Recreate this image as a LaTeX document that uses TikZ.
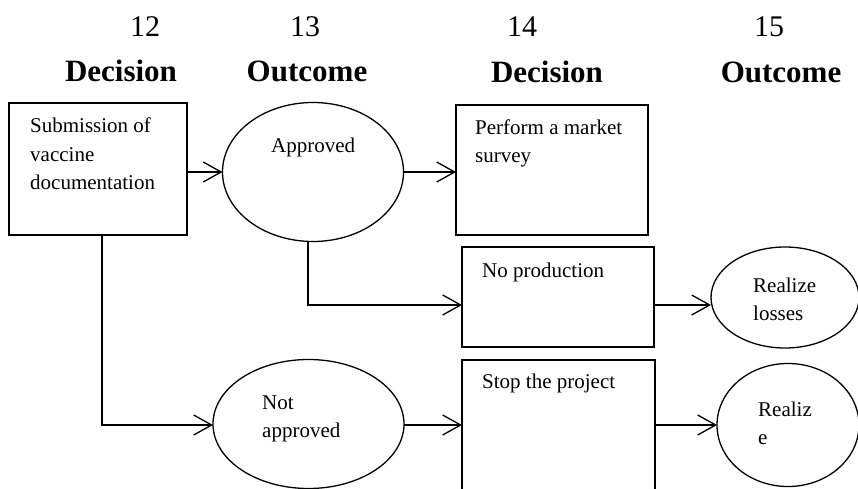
\documentclass[tikz,border=0pt]{standalone}
\usepackage{fontspec}
\setmainfont{Liberation Serif}
\usetikzlibrary{arrows.meta,shapes.geometric}
\begin{document}
\begin{tikzpicture}[x=1pt,y=-1pt,
  shapeline/.style={draw=black, line width=1.3pt, inner sep=0pt, outer sep=0pt},
  stepbox/.style={shapeline, rectangle},
  outcome/.style={shapeline, ellipse},
  % multi-line labels are placed by the baseline of their last line
  body/.style={font=\fontsize{21}{28}\selectfont, align=left, anchor=base west, inner sep=0pt},
  colnum/.style={font=\fontsize{30}{34}\selectfont, anchor=base, inner sep=0pt},
  colhead/.style={font=\fontsize{31}{36}\selectfont\bfseries, anchor=base, inner sep=0pt},
  link/.style={line width=1.3pt},
  arr/.style={link, -{Straight Barb[length=18pt,width=20pt,line width=1.3pt]}}
]
\useasboundingbox (0,0) rectangle (858,489);
\fill[white] (0,0) rectangle (858,489);
\clip (0,0) rectangle (858,489);

% column headings
\node[colnum]  (n12) at (145,37) {12};
\node[colhead] (h12) at (121,82) {Decision};
\node[colnum]  (n13) at (305,37) {13};
\node[colhead] (h13) at (307,82) {Outcome};
\node[colnum]  (n14) at (522,37) {14};
\node[colhead] (h14) at (547,83) {Decision};
\node[colnum]  (n15) at (769,37) {15};
\node[colhead] (h15) at (781,83) {Outcome};

% decision boxes
\node[stepbox, minimum width=178pt, minimum height=132pt] (b1) at (98,169) {};
\node[stepbox, minimum width=192pt, minimum height=130pt] (b2) at (552,170) {};
\node[stepbox, minimum width=192pt, minimum height=100pt] (b3) at (558,297) {};
\node[stepbox, minimum width=193pt, minimum height=200pt] (b4) at (558.5,460) {};

% outcome ellipses
\node[outcome, minimum width=181pt, minimum height=139pt] (e1) at (313,172) {};
\node[outcome, minimum width=191pt, minimum height=129pt] (e2) at (308.5,424) {};
\node[outcome, minimum width=148pt, minimum height=101pt] (e3) at (785,297.5) {};
\node[outcome, minimum width=142pt, minimum height=123pt] (e4) at (788,425) {};

% labels
\node[body] (t1) at (30,189) {Submission of\\vaccine\\documentation};
\node[body] (t2) at (271,153) {Approved};
\node[body] (t3) at (475,162) {Perform a market\\survey};
\node[body] (t4) at (482,277) {No production};
\node[body] (t5) at (753,320) {Realize\\losses};
\node[body] (t6) at (262,437) {Not\\approved};
\node[body] (t7) at (482,388) {Stop the project};
\node[body] (t8) at (758,444) {Realiz\\e};

% connectors
\coordinate (k1) at (308,305);
\coordinate (k2) at (102,425);
\draw[arr] (b1.east |- e1.west) -- (e1.west);
\draw[arr] (e1.east) -- (e1.east -| b2.west);
\draw[arr] (b1.south -| k2) -- (k2) -- (k2 -| e2.west);
\draw[arr] (e1.south -| k1) -- (k1) -- (k1 -| b3.west);
\draw[arr] (k1 -| b3.east) -- (k1 -| e3.west);
\draw[arr] (k2 -| e2.east) -- (k2 -| b4.west);
\draw[arr] (k2 -| b4.east) -- (k2 -| e4.west);
\end{tikzpicture}
\end{document}
